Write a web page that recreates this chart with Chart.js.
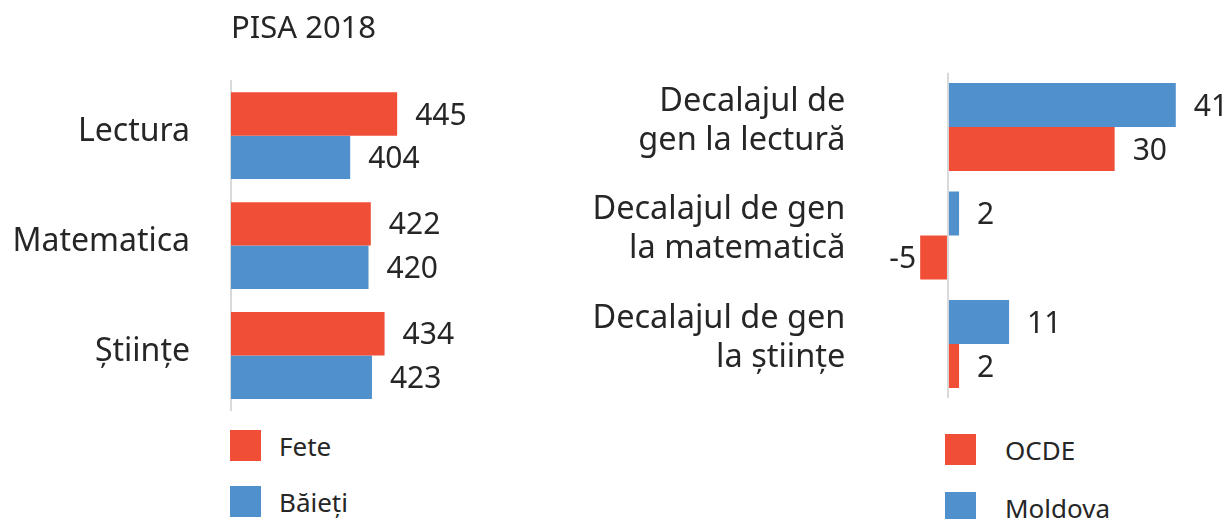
<!DOCTYPE html>
<html>
<head>
<meta charset="utf-8">
<script src="https://cdn.jsdelivr.net/npm/chart.js@4.4.0/dist/chart.umd.min.js"></script>
<style>
  body { margin: 0; width: 1227px; height: 519px; background: #fff; position: relative; overflow: hidden;
         font-family: "Noto Sans", sans-serif; color: #262626; }
  .box { position: absolute; }
  .item { position: absolute; display: flex; align-items: center; font-size: 26px; white-space: nowrap; height: 31px; }
  .sw { width: 31px; height: 31px; display: inline-block; flex: none; }
</style>
</head>
<body>
<div class="box" style="left:0;top:0;width:560px;height:411px"><canvas id="scoresChart"></canvas></div>
<div class="box" style="left:560px;top:0;width:667px;height:410px"><canvas id="gapChart"></canvas></div>

<div class="item" style="left:230px;top:430px"><span class="sw" style="background:#f04e37"></span><span style="margin-left:18px">Fete</span></div>
<div class="item" style="left:230px;top:486px"><span class="sw" style="background:#4f90cd"></span><span style="margin-left:18px">Băieți</span></div>
<div class="item" style="left:945px;top:434px"><span class="sw" style="background:#f04e37"></span><span style="margin-left:29px">OCDE</span></div>
<div class="item" style="left:945px;top:492px"><span class="sw" style="background:#4f90cd"></span><span style="margin-left:29px">Moldova</span></div>

<script>
// left panel: PISA 2018 scores
const subjects = ['Lectura', 'Matematica', 'Științe'];
const girls = [445, 422, 434];
const boys = [404, 420, 423];

// right panel: gender gap
const gapLabels = [
  ['Decalajul de', 'gen la lectură'],
  ['Decalajul de gen', 'la matematică'],
  ['Decalajul de gen', 'la științe']
];
const moldovaGap = [41, 2, 11];
const oecdGap = [30, -5, 2];

const RED = '#f04e37';
const BLUE = '#4f90cd';
const TEXT = '#262626';
const AXIS = '#d9d9d9';

Chart.defaults.font.family = '"Noto Sans", sans-serif';
Chart.defaults.color = TEXT;

// numbers next to the bars
const valueLabels = {
  id: 'valueLabels',
  afterDatasetsDraw(chart) {
    const ctx = chart.ctx;
    ctx.save();
    ctx.font = '30px "Noto Sans"';
    ctx.fillStyle = TEXT;
    ctx.textBaseline = 'middle';
    chart.data.datasets.forEach((ds, i) => {
      chart.getDatasetMeta(i).data.forEach((bar, j) => {
        const v = ds.data[j];
        if (v < 0) {
          ctx.textAlign = 'right';
          ctx.fillText(v, bar.x - 4, bar.y + 2);
        } else {
          ctx.textAlign = 'left';
          ctx.fillText(v, bar.x + 18, bar.y + 2);
        }
      });
    });
    ctx.restore();
  }
};

function createScoresChart() {
  return new Chart(document.getElementById('scoresChart'), {
    type: 'bar',
    data: {
      labels: subjects,
      datasets: [
        { label: 'Fete', data: girls, backgroundColor: RED },
        { label: 'Băieți', data: boys, backgroundColor: BLUE }
      ]
    },
    options: {
      indexAxis: 'y',
      responsive: true,
      maintainAspectRatio: false,
      animation: false,
      layout: { padding: { left: 0, right: 99.8, top: 0.5, bottom: 0.5 } },
      datasets: { bar: { categoryPercentage: 0.79, barPercentage: 1 } },
      plugins: {
        legend: { display: false },
        tooltip: { enabled: false },
        title: {
          display: true,
          text: 'PISA 2018',
          align: 'start',
          fullSize: false,
          color: TEXT,
          font: { size: 31, weight: 'normal' },
          padding: { top: 10, bottom: 33 }
        }
      },
      scales: {
        x: { display: false, min: 300, max: 500 },
        y: {
          grid: { display: false, drawTicks: false },
          border: { display: true, color: AXIS, width: 2 },
          ticks: { padding: 41, labelOffset: -4, color: TEXT, font: { size: 32 } },
          afterFit(s) { s.width = 231; s.paddingTop = 0; s.paddingBottom = 0; }
        }
      }
    },
    plugins: [valueLabels]
  });
}

function createGapChart() {
  return new Chart(document.getElementById('gapChart'), {
    type: 'bar',
    data: {
      labels: gapLabels,
      datasets: [
        { label: 'Moldova', data: moldovaGap, backgroundColor: BLUE },
        { label: 'OCDE', data: oecdGap, backgroundColor: RED }
      ]
    },
    options: {
      indexAxis: 'y',
      responsive: true,
      maintainAspectRatio: false,
      animation: false,
      layout: { padding: { left: 0, right: 29, top: 72.75, bottom: 11.75 } },
      datasets: { bar: { categoryPercentage: 0.81, barPercentage: 1 } },
      plugins: {
        legend: { display: false },
        tooltip: { enabled: false }
      },
      scales: {
        x: {
          min: -10,
          max: 45,
          ticks: { display: false, stepSize: 5 },
          border: { display: false },
          grid: {
            drawTicks: false,
            lineWidth: 2,
            color: c => (c.tick && c.tick.value === 0) ? AXIS : 'rgba(0,0,0,0)'
          }
        },
        y: {
          grid: { display: false, drawTicks: false },
          border: { display: false },
          ticks: { padding: 47, labelOffset: -6, color: TEXT, font: { size: 32.5, lineHeight: 1.2 } },
          afterFit(s) { s.width = 332.4; s.paddingTop = 0; s.paddingBottom = 0; }
        }
      }
    },
    plugins: [valueLabels]
  });
}

createScoresChart();
createGapChart();
</script>
</body>
</html>
